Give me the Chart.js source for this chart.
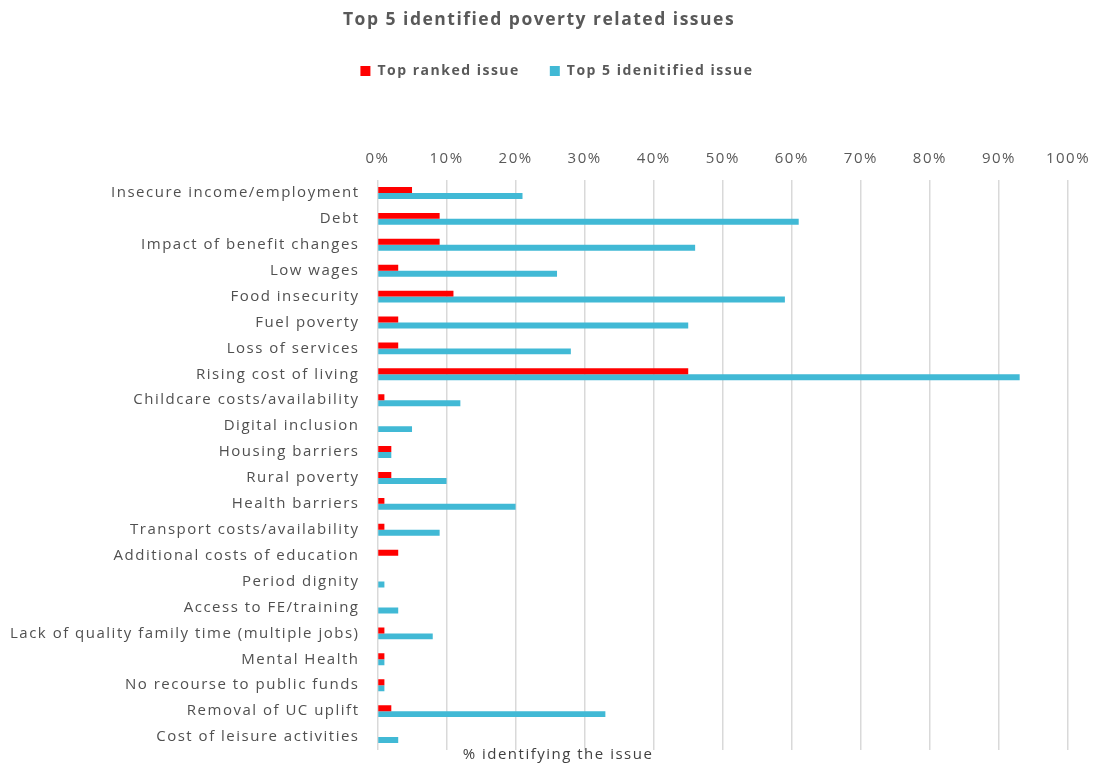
<!DOCTYPE html>
<html>
<head>
<meta charset="utf-8">
<script src="https://cdn.jsdelivr.net/npm/chart.js@4.4.1/dist/chart.umd.min.js"></script>
<style>
  html, body { margin: 0; padding: 0; background: #fff; }
  #wrap { width: 1096px; height: 765px; position: relative; }
</style>
</head>
<body>
<div id="wrap"><canvas id="chart"></canvas></div>
<script>
// --- Data ---
const ISSUES = [
  'Insecure income/employment',
  'Debt',
  'Impact of benefit changes',
  'Low wages',
  'Food insecurity',
  'Fuel poverty',
  'Loss of services',
  'Rising cost of living',
  'Childcare costs/availability',
  'Digital inclusion',
  'Housing barriers',
  'Rural poverty',
  'Health barriers',
  'Transport costs/availability',
  'Additional costs of education',
  'Period dignity',
  'Access to FE/training',
  'Lack of quality family time (multiple jobs)',
  'Mental Health',
  'No recourse to public funds',
  'Removal of UC uplift',
  'Cost of leisure activities',
];
const TOP_RANKED = [5, 9, 9, 3, 11, 3, 3, 45, 1, 0, 2, 2, 1, 1, 3, 0, 0, 1, 1, 1, 2, 0];
const TOP_FIVE = [21, 61, 46, 26, 59, 45, 28, 93, 12, 5, 2, 10, 20, 9, 0, 1, 3, 8, 1, 1, 33, 3];
const X_TICKS = [0, 10, 20, 30, 40, 50, 60, 70, 80, 90, 100];

const FONT = 'Open Sans';
const SPACING = '1.5px';
const RED = '#FF0000';
const CYAN = '#41B9D5';
const LABEL_GAP = 18;

// loose letter spacing on every piece of text, applied before measuring and drawing
const spacedText = {
  id: 'spacedText',
  beforeUpdate(chart) { chart.ctx.letterSpacing = SPACING; },
  beforeLayout(chart) { chart.ctx.letterSpacing = SPACING; },
  beforeDraw(chart) { chart.ctx.letterSpacing = SPACING; },
};

// pushes the plot down below the legend, and nudges the legend right
const legendGap = {
  id: 'legendGap',
  beforeInit(chart) {
    const fit = chart.legend.fit;
    chart.legend.fit = function () {
      fit.bind(this)();
      this.height += 50;
    };
  },
  afterLayout(chart) {
    chart.legend.left += 18;
    chart.legend.right += 18;
  },
};

// axis caption sits under the plot, left of centre
const axisCaption = {
  id: 'axisCaption',
  afterDraw(chart) {
    const ctx = chart.ctx;
    ctx.save();
    ctx.letterSpacing = SPACING;
    ctx.font = `15px "${FONT}"`;
    ctx.fillStyle = '#404040';
    ctx.textAlign = 'center';
    ctx.textBaseline = 'middle';
    ctx.fillText('% identifying the issue', 558, 755);
    ctx.restore();
  },
};

function drawChart() {
  new Chart(document.getElementById('chart'), {
    type: 'bar',
    data: {
      labels: ISSUES,
      datasets: [
        { label: 'Top ranked issue', data: TOP_RANKED, backgroundColor: RED },
        { label: 'Top 5 idenitified issue', data: TOP_FIVE, backgroundColor: CYAN },
      ],
    },
    options: {
      indexAxis: 'y',
      responsive: true,
      maintainAspectRatio: false,
      animation: false,
      categoryPercentage: 0.46,
      barPercentage: 1,
      layout: { padding: { left: 10, right: 28, top: 6, bottom: 15 } },
      plugins: {
        title: {
          display: true,
          text: 'Top 5 identified poverty related issues',
          color: '#595959',
          font: { family: FONT, size: 17.5, weight: 'bold' },
          padding: { top: 4, bottom: 3 },
        },
        legend: {
          position: 'top',
          labels: {
            color: '#595959',
            font: { family: FONT, size: 14, weight: 'bold' },
            boxWidth: 10,
            boxHeight: 10,
            padding: 30,
          },
        },
        tooltip: { enabled: false },
      },
      scales: {
        x: {
          position: 'top',
          min: 0,
          max: 100,
          afterBuildTicks(axis) {
            axis.ticks = X_TICKS.map((v) => ({ value: v }));
          },
          afterFit(axis) {
            axis.paddingLeft = 0;
            axis.paddingRight = 0;
          },
          ticks: {
            color: '#595959',
            font: { family: FONT, size: 15 },
            padding: 12,
            callback: (v) => v + '%',
          },
          grid: { color: '#D9D9D9', lineWidth: 1.5, drawTicks: false },
          border: { display: false },
        },
        y: {
          // the scale reserves the tick padding twice; keep only the gap next to the plot
          afterFit(axis) {
            axis.width -= LABEL_GAP;
            axis.paddingTop = 0;
            axis.paddingBottom = 0;
          },
          ticks: {
            color: '#505050',
            font: { family: FONT, size: 15 },
            padding: LABEL_GAP,
            autoSkip: false,
          },
          grid: { display: false, drawTicks: false },
          border: { display: false },
        },
      },
    },
    plugins: [spacedText, legendGap, axisCaption],
  });
}

// measure text only once the installed fonts are ready
Promise.all([
  document.fonts.load(`15px "${FONT}"`),
  document.fonts.load(`bold 15px "${FONT}"`),
]).then(drawChart, drawChart);
</script>
</body>
</html>
